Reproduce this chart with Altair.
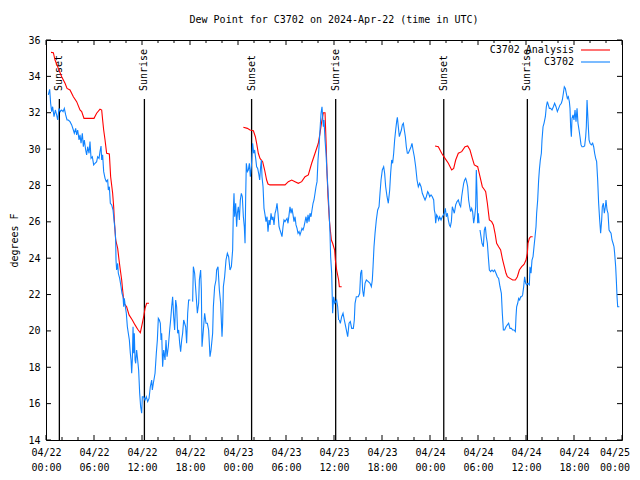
import altair as alt
import pandas as pd

FONT = "DejaVu Sans Mono"
TITLE = "Dew Point for C3702 on 2024-Apr-22 (time in UTC)"
Y_TITLE = "degrees F"
BLUE = "#1083ff"
RED = "#ff0000"

# ---- observed dew point (hours since 2024-04-22 00:00 UTC, degrees F)
obs_hours_1 = [0.29,0.46,0.58,0.71,0.83,1.00,1.17,1.33,1.46,1.63,1.79,1.96,2.13,2.29,2.46,2.63,2.79,3.00,3.21,3.42,3.54,3.71,3.83,3.96,4.13,4.25,4.38,4.54,4.67,4.79,4.96,5.08,5.21,5.38,5.50,5.63,5.79,5.96,6.13,6.33,6.46,6.63,6.75,6.88,6.96,7.08,7.21,7.38,7.54,7.71,7.79,7.92,8.04,8.21,8.38,8.50,8.63,8.71,8.75,8.83,8.96,9.04,9.21,9.38,9.50,9.63,9.71,9.79,9.92,10.04,10.17,10.29,10.42,10.54,10.63,10.71,10.79,10.88,10.96,11.04,11.13,11.21,11.33,11.46,11.58,11.71,11.83,11.96,12.04,12.21,12.38,12.54,12.71,12.88,13.04,13.21,13.29,13.42,13.63,13.79,13.92,14.04,14.17,14.29,14.38,14.46,14.58,14.71,14.88,15.00,15.13,15.29,15.46,15.58,15.71,15.83,15.96,16.08,16.21,16.33,16.46,16.58,16.71,16.83,16.96,17.08,17.21,17.33,17.46,17.58,17.71,17.83,18.04]
obs_dewpt_1 = [32.98,33.29,32.52,32.06,32.33,31.78,32.15,31.88,31.60,32.24,32.06,32.15,32.06,32.24,31.88,31.60,31.60,31.51,31.33,31.05,30.87,31.14,30.78,31.05,30.50,30.78,30.32,30.87,30.13,30.50,29.95,29.68,30.13,29.77,30.41,29.49,29.58,29.13,29.22,29.31,29.58,29.49,29.86,30.17,29.40,29.68,28.76,28.39,28.21,28.30,27.75,27.93,27.02,26.93,26.65,26.10,25.55,25.00,23.90,23.35,23.72,23.17,22.89,22.43,22.07,21.88,21.33,21.79,21.33,20.97,20.23,19.87,19.50,18.77,18.40,17.67,18.40,20.23,18.77,19.87,18.40,18.22,18.95,18.40,17.85,16.57,15.83,15.47,16.38,16.38,16.20,16.38,16.11,16.29,16.93,17.30,16.75,17.12,17.67,18.77,19.50,20.69,20.60,20.42,19.50,19.87,18.03,18.95,18.40,19.50,18.58,19.13,20.05,20.60,21.33,21.88,20.78,20.05,21.70,21.33,19.87,20.05,19.32,18.86,19.50,19.87,20.60,20.42,20.23,19.32,20.97,21.70,21.70]

obs_hours_2 = [18.33,18.42,18.58,18.75,18.92,19.08,19.17,19.33,19.42,19.50,19.67,19.83,20.00,20.17,20.33,20.50,20.63,20.75,20.83,20.92,21.08,21.25,21.33,21.50,21.67,21.83,22.00,22.08,22.17,22.33,22.50,22.67,22.83,23.00,23.17,23.33,23.42,23.50,23.58,23.71,23.83,23.92,24.04,24.17,24.29,24.42,24.54,24.67,24.79,24.88,24.96,25.04,25.17,25.29,25.42,25.54,25.67,25.75,25.83,25.96,26.08,26.21,26.33,26.46,26.58,26.71,26.83,26.92,27.00,27.13,27.25,27.38,27.50,27.63,27.75,27.88,28.00,28.13,28.25,28.38,28.50,28.63,28.75,28.88,29.00,29.13,29.25,29.38,29.50,29.63,29.75,29.88,30.00,30.13,30.25,30.38,30.50,30.63,30.75,30.88,31.00,31.13,31.25,31.38,31.50,31.63,31.75,31.88,32.00,32.13,32.25,32.38,32.50,32.63,32.75,32.88,33.00,33.13,33.25,33.38,33.50,33.63,33.75,33.88,34.00,34.13,34.25,34.38,34.50,34.58,34.67,34.75,34.88,35.00,35.13,35.25,35.38,35.50,35.58,35.71,35.83,35.96,36.08,36.21,36.33,36.46,36.58]
obs_dewpt_2 = [21.61,23.53,23.17,22.07,20.97,21.52,22.80,23.35,22.25,19.13,20.05,20.97,20.42,20.42,20.05,18.58,18.95,19.50,19.87,21.33,22.43,22.80,23.35,23.53,22.25,21.52,19.68,20.42,22.43,22.98,23.90,24.27,24.08,23.35,23.53,24.45,26.65,27.57,26.28,27.02,25.73,26.47,26.83,26.10,27.20,27.57,27.38,26.28,25.73,24.82,27.38,29.22,28.76,28.85,29.22,28.48,29.03,29.68,30.32,29.77,29.95,29.49,29.03,28.94,28.67,28.30,29.03,29.40,28.48,27.93,26.74,26.38,26.01,26.28,25.46,26.10,25.83,26.47,26.10,26.28,25.83,26.47,26.65,27.02,26.47,25.73,25.55,25.37,25.18,25.73,26.10,26.01,26.10,26.19,25.92,26.38,26.83,26.47,26.74,26.38,26.01,26.28,25.83,25.64,25.37,25.46,25.28,25.46,25.64,25.55,25.73,26.01,26.28,25.92,26.38,26.01,26.47,26.28,26.65,27.02,27.20,27.57,27.93,28.21,29.40,30.13,31.05,31.97,32.33,31.78,31.23,31.60,30.50,29.77,28.67,27.75,26.65,25.37,24.08,23.17,20.97,21.88,21.52,21.61,21.70,21.33,20.60]

obs_hours_3 = [36.67,36.79,36.96,37.13,37.29,37.46,37.63,37.71,37.88,38.04,38.21,38.42,38.54,38.63,38.79,39.04,39.21,39.33,39.46,39.58,39.71,39.88,40.04,40.29,40.50,40.67,40.79,40.88,41.00,41.13,41.29,41.46,41.63,41.75,41.88,42.04,42.21,42.33,42.46,42.63,42.79,42.96,43.08,43.21,43.33,43.46,43.58,43.71,43.83,43.92,44.04,44.17,44.29,44.42,44.54,44.67,44.79,44.92,45.04,45.17,45.29,45.46,45.63,45.75,45.88,46.04,46.21,46.38,46.54,46.71,46.88,47.04,47.21,47.38,47.54,47.71,47.83,47.96,48.13,48.29,48.46,48.54,48.63,48.71,48.83,48.96,49.08,49.21,49.38,49.54,49.67,49.79,49.92,50.04,50.17,50.29,50.42,50.54,50.67,50.79,50.92,51.04,51.21,51.38,51.54,51.71,51.83,51.96,52.08,52.21,52.33,52.46,52.58,52.71,52.83,52.96,53.08,53.21,53.33,53.46,53.58,53.71,53.79,53.88,53.96,54.04,54.13]
obs_dewpt_3 = [20.60,20.42,20.78,20.97,20.60,20.23,19.87,19.68,20.42,20.51,20.14,20.14,20.60,21.52,21.88,21.88,22.07,23.17,23.35,22.25,21.88,22.62,22.80,22.71,22.62,22.43,22.80,23.53,24.63,25.37,26.10,26.65,26.83,27.57,28.30,28.85,29.03,28.67,27.93,27.38,27.02,27.75,28.67,29.40,29.22,29.77,30.50,31.05,31.51,31.75,31.23,30.68,30.87,31.05,31.33,31.42,31.05,30.68,30.13,29.77,29.77,29.95,30.13,30.32,29.95,29.58,29.03,28.30,27.93,28.12,27.93,27.57,27.38,27.20,27.38,27.66,27.57,27.38,27.48,27.38,27.20,26.65,26.47,25.92,26.38,26.28,26.10,26.28,26.10,26.28,26.38,26.47,26.74,26.28,26.47,26.10,25.83,25.73,26.01,26.83,26.65,26.47,26.93,27.11,27.20,26.93,26.83,27.38,27.75,28.12,28.30,28.39,28.21,27.93,27.20,26.83,26.56,26.74,26.56,25.92,26.28,26.83,28.85,27.57,25.92,26.47,25.92]

obs_hours_4 = [54.25,54.50,54.67,54.79,54.92,55.04,55.17,55.29,55.42,55.58,55.75,55.92,56.08,56.25,56.42,56.58,56.75,56.92,57.04,57.17,57.33,57.50,57.67,57.83,58.00,58.17,58.33,58.50,58.67,58.75,58.83,58.96,59.08,59.21,59.33,59.46,59.58,59.71,59.83,59.96,60.08,60.25,60.42,60.50,60.63,60.75,60.88,61.00,61.13,61.25,61.33,61.46,61.58,61.67,61.79,61.92,62.00,62.13,62.25,62.42,62.54,62.67,62.79,62.92,63.08,63.25,63.42,63.58,63.75,63.92,64.08,64.25,64.42,64.54,64.67,64.79,64.92,65.04,65.17,65.29,65.42,65.50,65.58,65.67,65.75,65.88,66.00,66.13,66.25,66.38,66.50,66.63,66.75,66.88,67.00,67.17,67.33,67.46,67.54,67.63,67.71,67.79,67.88,68.00,68.17,68.33,68.46,68.58,68.71,68.83,68.96,69.08,69.21,69.33,69.46,69.54,69.67,69.79,69.92,70.00,70.13,70.25,70.38,70.50,70.63,70.75,70.88,71.00,71.08,71.21,71.29,71.38,71.46,71.67]
obs_dewpt_4 = [25.55,24.82,24.63,25.55,25.73,25.18,24.82,24.08,23.35,23.26,23.35,23.26,23.35,23.17,22.98,22.89,22.43,22.07,20.97,20.05,20.05,20.23,20.33,20.42,20.14,20.14,20.05,20.05,19.96,20.78,21.33,21.52,21.79,21.70,21.88,21.88,21.98,22.43,22.98,22.62,22.53,22.62,22.53,23.53,23.17,23.90,24.08,24.63,25.18,25.73,26.47,27.20,28.30,28.85,29.40,29.77,30.50,31.23,31.42,31.78,32.33,32.61,32.43,32.24,32.24,32.15,32.33,32.52,32.33,32.06,32.24,32.43,32.52,32.70,33.07,33.43,33.34,33.07,32.79,32.88,32.61,32.24,31.23,30.68,31.69,31.88,31.60,32.15,31.51,32.24,31.42,31.05,30.68,30.23,30.13,30.13,30.17,30.68,31.23,32.70,31.97,31.23,30.50,30.32,30.23,30.32,30.13,29.77,29.49,29.31,28.30,27.02,26.10,25.37,26.10,26.83,27.02,26.47,26.83,27.20,26.65,26.47,25.55,25.46,25.37,25.00,24.82,24.63,24.27,23.53,22.80,21.88,21.33,21.33]

# ---- analysis (three separate pieces)
ana_hours_1 = [0.63,0.92,1.13,1.54,1.96,2.38,2.63,3.00,3.42,3.83,4.25,4.46,4.75,6.00,6.33,6.75,6.96,7.08,7.21,7.38,7.58,7.92,8.08,8.33,8.46,8.54,8.71,8.96,9.13,9.29,9.46,9.58,9.75,10.08,10.38,10.79,11.13,11.46,11.79,12.00,12.21,12.38,12.58,12.88]
ana_dewpt_1 = [35.32,35.30,34.90,34.44,33.98,33.62,33.34,33.25,32.88,32.61,32.15,32.06,31.69,31.69,31.97,32.20,32.15,31.60,31.05,30.50,29.77,29.73,28.48,27.57,26.83,26.10,25.00,24.54,23.90,23.35,22.80,22.25,21.52,21.33,20.88,20.60,20.33,20.09,19.90,20.33,20.78,21.24,21.52,21.52]
ana_hours_2 = [24.67,25.17,25.50,25.92,26.17,26.33,26.54,26.75,27.08,27.33,27.58,27.75,28.00,29.88,30.29,30.71,31.13,31.54,31.96,32.38,32.79,33.21,33.63,34.04,34.25,34.46,34.67,34.88,35.00,35.13,35.25,35.42,35.50,35.67,35.83,36.08,36.17,36.33,36.58,36.67,36.96]
ana_dewpt_2 = [31.20,31.14,31.05,31.01,30.68,30.32,29.77,29.49,29.31,28.85,28.30,28.08,28.03,28.03,28.21,28.30,28.21,28.12,28.21,28.48,28.58,29.22,29.77,30.32,30.87,31.51,32.00,32.00,30.50,28.67,27.38,26.10,25.73,25.00,24.82,24.45,23.90,23.35,22.80,22.43,22.43]
ana_hours_3 = [48.63,49.04,49.46,49.88,50.29,50.71,50.96,51.21,51.54,51.96,52.38,52.71,53.00,53.29,53.54,53.96,54.25,54.54,54.83,54.96,55.17,55.42,55.71,55.92,56.13,56.33,56.58,56.83,57.08,57.29,57.50,57.67,58.00,58.33,58.67,58.92,59.17,59.46,59.75,60.00,60.17,60.25,60.42,60.58,60.83]
ana_dewpt_3 = [30.17,30.13,29.77,29.49,29.22,28.85,28.94,29.40,29.77,29.86,30.13,30.17,29.95,29.49,29.13,29.03,28.48,27.93,27.75,27.66,27.02,26.10,26.01,25.83,25.37,24.82,24.63,24.45,23.90,23.53,23.17,22.98,22.89,22.80,22.80,22.98,23.35,23.53,23.66,23.90,24.27,24.82,25.09,25.18,25.18]

sun_hours = [1.67, 12.30, 25.70, 36.21, 49.72, 60.17]
sun_labels = ["Sunset", "Sunrise", "Sunset", "Sunrise", "Sunset", "Sunrise"]

y_tick_values = list(range(14, 37, 2))
x_major_hours = list(range(0, 73, 6))
x_minor_hours = [h for h in range(0, 73, 2) if h % 6]
x_label_hours = list(range(0, 72, 6))      # labelled by the axis
x_last_hour = [72]                          # last label, nudged inside the page
x_last_label = ["04/25\n00:00"]
legend_labels = ["C3702 Analysis", "C3702"]

BASE = pd.Timestamp("2024-04-22 00:00:00")


def iso(hours):
    return [(BASE + pd.Timedelta(hours=h)).strftime("%Y-%m-%dT%H:%M:%SZ") for h in hours]


def frame(hours, vals, seg):
    assert len(hours) == len(vals), (seg, len(hours), len(vals))
    return pd.DataFrame({"t": iso(hours), "v": vals, "seg": seg})


obs = pd.concat([
    frame(obs_hours_1, obs_dewpt_1, "a"),
    frame(obs_hours_2, obs_dewpt_2, "b"),
    frame(obs_hours_3, obs_dewpt_3, "c"),
    frame(obs_hours_4, obs_dewpt_4, "d"),
], ignore_index=True)
ana = pd.concat([
    frame(ana_hours_1, ana_dewpt_1, "1"),
    frame(ana_hours_2, ana_dewpt_2, "2"),
    frame(ana_hours_3, ana_dewpt_3, "3"),
], ignore_index=True)
sun = pd.DataFrame({"t": iso(sun_hours), "label": sun_labels})
xmaj = pd.DataFrame({"t": iso(x_major_hours)})
xmin = pd.DataFrame({"t": iso(x_minor_hours)})
xlast = pd.DataFrame({"t": iso(x_last_hour), "label": x_last_label})
yt = pd.DataFrame({"v": y_tick_values})

W, H = 576, 400

xscale = alt.Scale(
    type="utc",
    domain=[alt.DateTime(year=2024, month=4, date=22, utc=True),
            alt.DateTime(year=2024, month=4, date=25, utc=True)],
    nice=False,
)
yscale = alt.Scale(domain=[14, 36], nice=False, zero=False)

xaxis = alt.Axis(
    values=[alt.DateTime(year=2024, month=4, date=22 + h // 24, hours=h % 24, utc=True) for h in x_label_hours],
    labelExpr="[utcFormat(datum.value, '%m/%d'), utcFormat(datum.value, '%H:%M')]",
    ticks=False, tickSize=0, domain=False, grid=False,
    labelFont=FONT, labelFontSize=10, labelColor="black",
    labelPadding=7, labelLineHeight=15, labelBaseline="top",
    labelFlush=False, labelOverlap=False, title=None,
)
yaxis = alt.Axis(
    values=y_tick_values, format="d",
    ticks=False, tickSize=0, domain=False, grid=False,
    labelFont=FONT, labelFontSize=10, labelColor="black", labelPadding=6,
    labelFlush=False, labelOverlap=False,
    title=Y_TITLE, titleFont=FONT, titleFontSize=10, titleFontWeight="normal",
    titleColor="black", titlePadding=8,
)

X = alt.X("t:T", scale=xscale, axis=xaxis)
Y = alt.Y("v:Q", scale=yscale, axis=yaxis)

red = alt.Chart(ana).mark_line(color=RED, strokeWidth=1.1).encode(x=X, y=Y, detail="seg:N")
blue = alt.Chart(obs).mark_line(color=BLUE, strokeWidth=1.1).encode(x=X, y=Y, detail="seg:N")

sun_rules = alt.Chart(sun).mark_rule(color="black", strokeWidth=1.3).encode(
    x=X, y=alt.value(59), y2=alt.value(H))
sun_text = alt.Chart(sun).mark_text(
    font=FONT, fontSize=10, angle=270, align="left", baseline="middle", color="black", dx=1
).encode(x=X, y=alt.value(52), text="label:N")

last_label = alt.Chart(xlast).mark_text(
    font=FONT, fontSize=10, align="center", baseline="top", color="black",
    lineBreak="\n", lineHeight=15, dx=-7
).encode(x=X, y=alt.value(H + 8), text="label:N")

tick_major_bot = alt.Chart(xmaj).mark_rule(color="black").encode(x=X, y=alt.value(H), y2=alt.value(H - 5))
tick_major_top = alt.Chart(xmaj).mark_rule(color="black").encode(x=X, y=alt.value(0), y2=alt.value(5))
tick_minor_bot = alt.Chart(xmin).mark_rule(color="black").encode(x=X, y=alt.value(H), y2=alt.value(H - 3))
tick_minor_top = alt.Chart(xmin).mark_rule(color="black").encode(x=X, y=alt.value(0), y2=alt.value(3))
tick_y_left = alt.Chart(yt).mark_rule(color="black").encode(y=Y, x=alt.value(0), x2=alt.value(5))
tick_y_right = alt.Chart(yt).mark_rule(color="black").encode(y=Y, x=alt.value(W), x2=alt.value(W - 5))

title_df = pd.DataFrame({"label": [TITLE]})
title = alt.Chart(title_df).mark_text(
    font=FONT, fontSize=10, align="center", baseline="middle", color="black"
).encode(text="label:N", x=alt.value(W / 2), y=alt.value(-20))

leg_df_0 = pd.DataFrame({"label": [legend_labels[0]]})
leg_df_1 = pd.DataFrame({"label": [legend_labels[1]]})
leg_text_0 = alt.Chart(leg_df_0).mark_text(font=FONT, fontSize=10, align="right", baseline="middle", color="black").encode(
    text="label:N", x=alt.value(528), y=alt.value(10))
leg_text_1 = alt.Chart(leg_df_1).mark_text(font=FONT, fontSize=10, align="right", baseline="middle", color="black").encode(
    text="label:N", x=alt.value(528), y=alt.value(22))
leg_line_0 = alt.Chart(leg_df_0).mark_rule(color=RED, strokeWidth=1.1).encode(
    x=alt.value(535), x2=alt.value(564), y=alt.value(10))
leg_line_1 = alt.Chart(leg_df_1).mark_rule(color=BLUE, strokeWidth=1.1).encode(
    x=alt.value(535), x2=alt.value(564), y=alt.value(22))

chart = alt.layer(
    tick_major_bot, tick_major_top, tick_minor_bot, tick_minor_top, tick_y_left, tick_y_right,
    sun_rules, sun_text, red, blue, last_label, title,
    leg_text_0, leg_text_1, leg_line_0, leg_line_1,
).properties(
    width=W, height=H,
    autosize=alt.AutoSizeParams(type="none"),
    padding={"left": 38, "top": 32, "right": 10, "bottom": 32},
    background="white",
).configure_view(stroke="black", strokeWidth=1)

chart.save("out.html", embed_options={"renderer": "svg", "actions": False})
